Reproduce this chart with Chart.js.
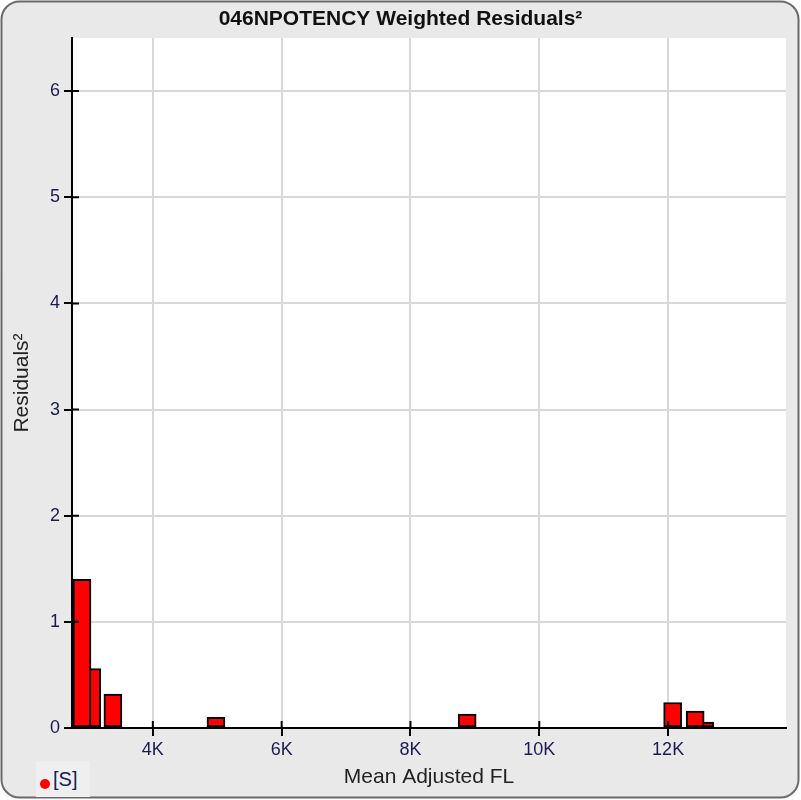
<!DOCTYPE html>
<html>
<head>
<meta charset="utf-8">
<script src="https://cdn.jsdelivr.net/npm/chart.js@4.4.0/dist/chart.umd.min.js"></script>
<style>
  html, body { margin: 0; padding: 0; background: #fff; }
  #wrap { position: relative; width: 801px; height: 800px; }
  #legend {
    position: absolute; left: 36px; top: 761px; width: 54px; height: 36px;
    background: #efefef; font: 20px "Liberation Sans", Arial, sans-serif; color: #1b1b50;
    line-height: 36px;
  }
  #legend .dot {
    display: inline-block; width: 10px; height: 10px; border-radius: 50%;
    background: #ff0000; margin: 0 3px 0 4px; vertical-align: -3px;
  }
</style>
</head>
<body>
<div id="wrap">
  <canvas id="chart" width="801" height="800"></canvas>
  <div id="legend"><span class="dot"></span>[S]</div>
</div>
<script>
const titleText = '046NPOTENCY Weighted Residuals²';
const xTitle = 'Mean Adjusted FL';
const yTitle = 'Residuals²';

// mean adjusted FL (x) and weighted residuals squared (y)
const meanFL = [2900, 3050, 3380, 4980, 8880, 12070, 12420, 12570];
const residualsSq = [1.40, 0.56, 0.32, 0.10, 0.13, 0.24, 0.16, 0.055];

const xTicks = [4000, 6000, 8000, 10000, 12000];
const yTicks = [0, 1, 2, 3, 4, 5, 6];

// taller bars drawn last so they sit on top of neighbours
const points = meanFL.map((x, i) => ({ x: x, y: residualsSq[i] }))
  .sort((a, b) => a.y - b.y);

const fontFamily = '"Liberation Sans", Arial, sans-serif';

const panel = {
  id: 'panel',
  beforeDraw(chart) {
    const c = chart.ctx;
    const a = chart.chartArea;
    c.save();
    c.fillStyle = '#fff';
    c.fillRect(0, 0, chart.width, chart.height);
    c.beginPath();
    c.roundRect(1.5, 1.5, 797, 796, 18);
    c.fillStyle = '#e9e9e9';
    c.fill();
    c.lineWidth = 2;
    c.strokeStyle = '#6a6a6a';
    c.stroke();
    c.fillStyle = '#fff';
    c.fillRect(a.left, a.top, a.right - a.left, a.bottom - a.top);
    c.restore();
  },
  afterDraw(chart) {
    const c = chart.ctx;
    const a = chart.chartArea;
    const xs = chart.scales.x, ys = chart.scales.y;
    c.save();
    c.strokeStyle = '#000';
    c.lineWidth = 2;
    c.beginPath();
    xs.ticks.forEach(t => {
      const px = xs.getPixelForValue(t.value);
      c.moveTo(px, a.bottom);
      c.lineTo(px, a.bottom - 7);
    });
    ys.ticks.forEach(t => {
      const py = ys.getPixelForValue(t.value);
      c.moveTo(a.left, py);
      c.lineTo(a.left + 7, py);
    });
    c.moveTo(a.left, a.top);
    c.lineTo(a.left, a.bottom);
    c.lineTo(a.right, a.bottom);
    c.stroke();
    c.fillStyle = '#111';
    c.font = 'bold 21px ' + fontFamily;
    c.textAlign = 'center';
    c.textBaseline = 'middle';
    c.fillText(titleText, 400.5, 19);
    c.restore();
  }
};

new Chart(document.getElementById('chart'), {
  type: 'bar',
  data: {
    datasets: [{
      data: points,
      backgroundColor: '#ff0000',
      borderColor: '#000',
      borderWidth: 2,
      borderSkipped: false,
      barThickness: 18
    }]
  },
  options: {
    responsive: false,
    animation: false,
    layout: { padding: { top: 38, right: 15, left: 0, bottom: 0 } },
    plugins: {
      legend: { display: false },
      title: { display: false },
      tooltip: { enabled: false }
    },
    scales: {
      x: {
        type: 'linear',
        min: 2745,
        max: 13830,
        offset: false,
        afterBuildTicks: s => { s.ticks = xTicks.map(v => ({ value: v })); },
        afterFit: s => { s.height = 72; },
        ticks: {
          callback: v => (v / 1000) + 'K',
          font: { family: fontFamily, size: 18 },
          color: '#1b1b50',
          padding: 3,
          maxRotation: 0
        },
        grid: { offset: false, color: '#d8d8d8', lineWidth: 2, tickColor: '#000', tickLength: 8, tickWidth: 2 },
        border: { display: true, color: '#000', width: 2 },
        title: {
          display: true, text: xTitle, color: '#222',
          font: { family: fontFamily, size: 21 },
          padding: { top: 0, bottom: 10 }
        }
      },
      y: {
        min: 0,
        max: 6.5,
        afterBuildTicks: s => { s.ticks = yTicks.map(v => ({ value: v })); },
        afterFit: s => { s.width = 72; },
        ticks: {
          font: { family: fontFamily, size: 18 },
          color: '#1b1b50',
          padding: 4
        },
        grid: { color: '#d8d8d8', lineWidth: 2, tickColor: '#000', tickLength: 8, tickWidth: 2 },
        border: { display: true, color: '#000', width: 2 },
        title: {
          display: true, text: yTitle, color: '#222',
          font: { family: fontFamily, size: 21 },
          padding: { top: 10, bottom: 0 }
        }
      }
    }
  },
  plugins: [panel]
});
</script>
</body>
</html>
